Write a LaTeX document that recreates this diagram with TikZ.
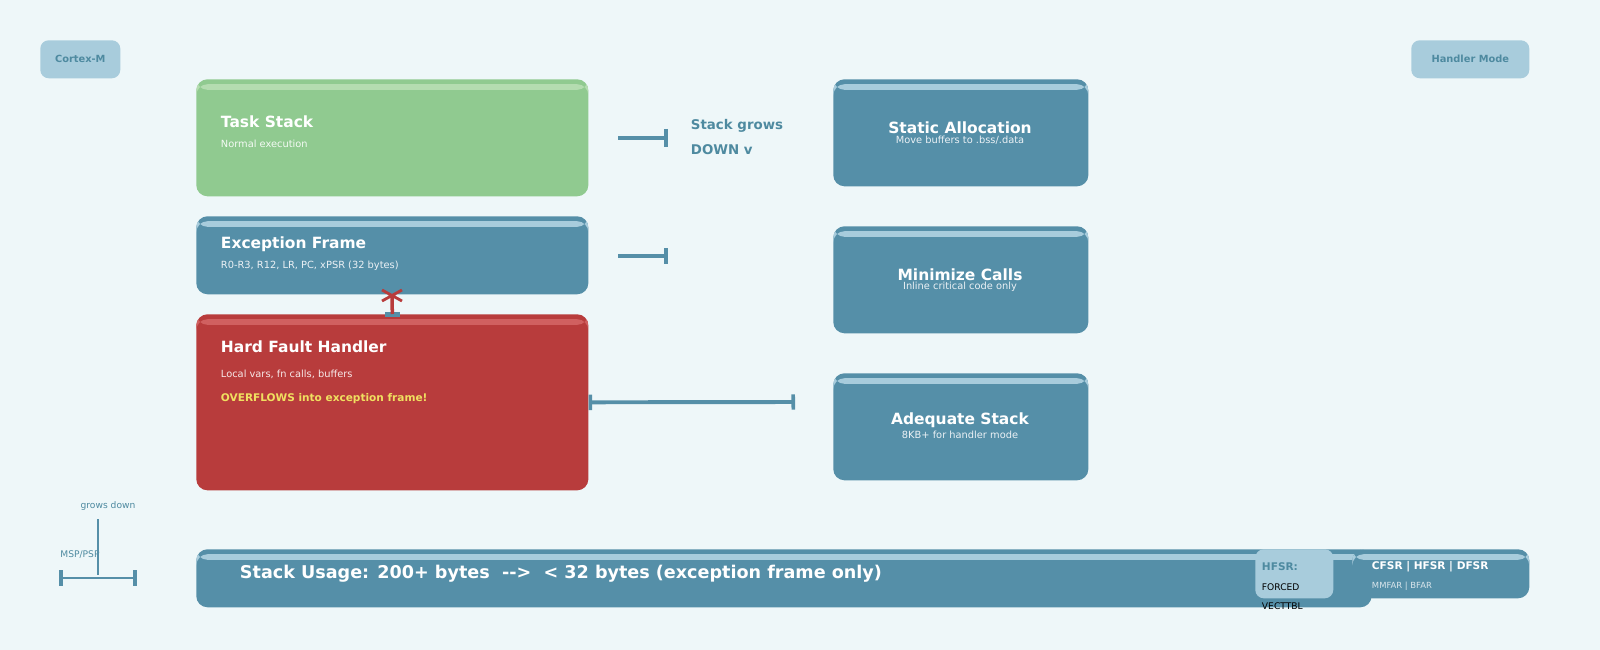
\documentclass[tikz,border=0pt]{standalone}
\usepackage{fontspec}
\setmainfont{DejaVu Sans}
\usetikzlibrary{arrows.meta,positioning}

\definecolor{bgcol}{HTML}{EEF7F9}
\definecolor{cardblue}{HTML}{558FA8}
\definecolor{cardlight}{HTML}{A8CCDC}
\definecolor{cardgreen}{HTML}{90CA90}
\definecolor{greenlight}{HTML}{B4DCB0}
\definecolor{cardred}{HTML}{B83C3C}
\definecolor{redlight}{HTML}{D06060}
\definecolor{inktext}{HTML}{4E8AA0}
\definecolor{warnyellow}{HTML}{F0E060}

\begin{document}
\begin{tikzpicture}[
  x=0.025cm, y=-0.025cm,
  card/.style n args={2}{fill=#1, rounded corners=8pt, anchor=north west, inner sep=0pt,
    path picture={\fill[#2] ([yshift=-3.5pt]path picture bounding box.north west)
      rectangle ([yshift=-7.5pt]path picture bounding box.north east);}},
  tag/.style = {fill=cardlight, rounded corners=6pt, anchor=north west, inner sep=0pt},
  title/.style = {text=white, font=\bfseries\fontsize{11}{12}\selectfont},
  sub/.style = {text=#1, font=\fontsize{7}{8}\selectfont},
  conn/.style = {draw=cardblue, line width=2.8pt},
  ]
  \fill[bgcol] (0,0) rectangle (1600,650);
  \useasboundingbox (0,0) rectangle (1600,650);

  % corner tags
  \node[tag, minimum width=2cm, minimum height=0.95cm] (cortex) at (40,40) {};
  \node[text=inktext, font=\bfseries\fontsize{7}{8}\selectfont] at (cortex.center) {Cortex-M};
  \node[tag, minimum width=2.95cm, minimum height=0.95cm] (mode) at (1411,40) {};
  \node[text=inktext, font=\bfseries\fontsize{7}{8}\selectfont] at (mode.center) {Handler Mode};

  % stack boxes
  \node[card={cardgreen}{greenlight}, minimum width=9.8cm, minimum height=2.925cm] (task) at (196,79) {};
  \node[title, anchor=west] at (216,122) {Task Stack};
  \node[sub={white!90!cardgreen}, anchor=west] at (216,144) {Normal execution};

  \node[card={cardblue}{cardlight}, minimum width=9.8cm, minimum height=1.95cm] (frame) at (196,216) {};
  \node[title, anchor=west] at (216,244) {Exception Frame};
  \node[sub={white!88!cardblue}, anchor=west] at (216,266) {R0-R3, R12, LR, PC, xPSR (32 bytes)};

  \node[card={cardred}{redlight}, minimum width=9.8cm, minimum height=4.4cm] (hf) at (196,314) {};
  \node[title, anchor=west] at (216,347) {Hard Fault Handler};
  \node[sub={white!88!cardred}, anchor=west] at (216,374) {Local vars, fn calls, buffers};
  \node[text=warnyellow, font=\bfseries\fontsize{7.5}{8}\selectfont, anchor=west] at (216,399) {OVERFLOWS into exception frame!};

  % fixes
  \node[card={cardblue}{cardlight}, minimum width=6.375cm, minimum height=2.675cm] (static) at (833,79) {};
  \node[title] at (960,128) {Static Allocation};
  \node[sub={white!88!cardblue}] at (960,140) {Move buffers to .bss/.data};

  \node[card={cardblue}{cardlight}, minimum width=6.375cm, minimum height=2.675cm] (calls) at (833,226) {};
  \node[title] at (960,275) {Minimize Calls};
  \node[sub={white!88!cardblue}] at (960,287) {Inline critical code only};

  \node[card={cardblue}{cardlight}, minimum width=6.375cm, minimum height=2.675cm] (adequate) at (833,373) {};
  \node[title] at (960,420) {Adequate Stack};
  \node[sub={white!88!cardblue}] at (960,435) {8KB+ for handler mode};

  % growth note
  \node[text=inktext, font=\bfseries\fontsize{9.5}{10}\selectfont, anchor=west] at (686,126) {Stack grows};
  \node[text=inktext, font=\bfseries\fontsize{9.5}{10}\selectfont, anchor=west] at (686,150) {DOWN v};

  % connectors
  \coordinate (t1) at (618,138);
  \coordinate (t2) at (668,138);
  \coordinate (e1) at (618,256);
  \coordinate (e2) at (668,256);
  \coordinate (h2) at (795,402);
  \draw[conn, -{Bar[width=13pt,line width=2.5pt]}] (t1) -- (t2);
  \draw[conn, -{Bar[width=11pt,line width=2.5pt]}] (e1) -- (e2);
  \draw[conn, {Bar[width=11pt,line width=2.5pt]}-{Bar[width=11pt,line width=2.5pt]}] (hf.east) -- (h2);

  % collision marker
  \coordinate (xm) at (392,296);
  \fill[cardblue] (385,312) rectangle (400,317);
  \draw[cardred, line width=2.5pt] (hf.north) -- (xm);
  \draw[cardred, line width=2pt] (382,290) -- (402,301) (382,301) -- (402,290);

  % bottom left sketch
  \node[text=inktext, font=\fontsize{6.5}{7}\selectfont] at (108,506) {grows down};
  \node[text=inktext, font=\fontsize{6.5}{7}\selectfont] at (80,555) {MSP/PSP};
  \coordinate (g1) at (98,519);
  \coordinate (g2) at (98,575);
  \coordinate (b1) at (59,578);
  \coordinate (b2) at (137,578);
  \draw[cardblue, line width=2pt] (g1) -- (g2);
  \draw[cardblue, line width=2pt, {Bar[width=11pt,line width=3pt]}-{Bar[width=11pt,line width=3pt]}] (b1) -- (b2);

  % usage bar
  \node[card={cardblue}{cardlight}, minimum width=29.375cm, minimum height=1.45cm] (usage) at (196,549) {};
  \node[text=white, font=\bfseries\fontsize{12.5}{14}\selectfont, anchor=west] at (235,574)
    {Stack Usage: 200+ bytes \ {-}{-}>\ \ < 32 bytes (exception frame only)};

  % registers
  \node[card={cardblue}{cardlight}, minimum width=4.425cm, minimum height=1.225cm] (cfsr) at (1352,549) {};
  \node[text=white, font=\bfseries\fontsize{7.5}{8}\selectfont, anchor=west] at (1367,567) {CFSR | HFSR | DFSR};
  \node[sub={white!78!cardblue}, anchor=west, font=\fontsize{6}{7}\selectfont] at (1367,586) {MMFAR | BFAR};
  \node[tag, minimum width=1.95cm, minimum height=1.225cm] (hfsr) at (1255,549) {};
  \node[text=inktext, font=\bfseries\fontsize{7.5}{8}\selectfont, anchor=west] at (1257,567) {HFSR:};
  \node[font=\fontsize{6.5}{7}\selectfont, anchor=west] at (1257,587) {FORCED};
  \node[font=\fontsize{6.5}{7}\selectfont, anchor=west] at (1257,606) {VECTTBL};
\end{tikzpicture}
\end{document}
